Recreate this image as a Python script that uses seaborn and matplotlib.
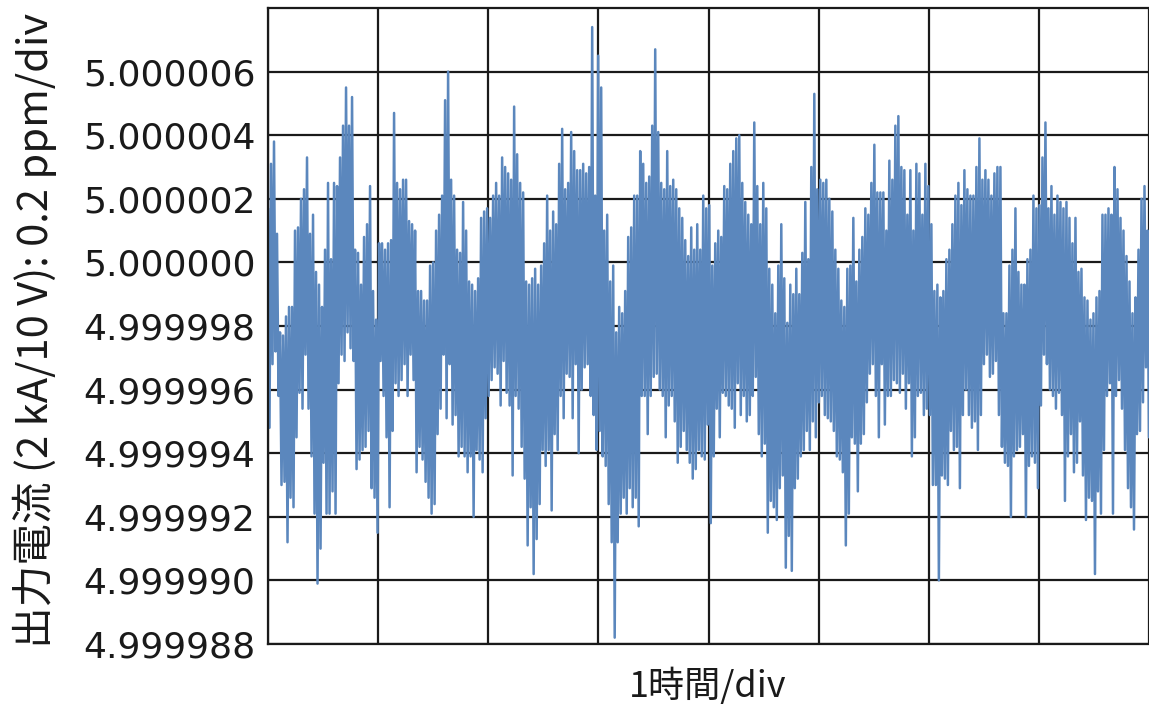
import numpy as np
import pandas as pd
import matplotlib
matplotlib.use('Agg')
import matplotlib.pyplot as plt
import seaborn as sns

# offsets from 5 V in units of 1e-6 (one grid step = 2),
# max / min of the trace in each ~3 px column, 8 hours in total
upper = [1.7, 3.1, 3.8, 0.9, -2.2, -2.3, -1.7, -1.4, -1.4, 1.0, 1.1, 2.0, 2.3, 3.3, 0.9, 1.5,
         -0.3, -0.7, -1.4, 0.4, 2.5, 0.1, 2.5, 2.4, 3.3, 4.3, 5.5, 4.3, 5.2, 0.4, 0.3, -0.7,
         0.8, 1.2, 2.4, -0.9, -1.8, 0.6, 0.6, 0.4, 0.6, 0.7, 4.7, 2.5, 2.3, 2.6, 2.6, 1.3, 1.2,
         # 2
         1.0, -0.9, -0.9, -1.2, -1.2, -0.1, 0.0, 1.0, 1.5, 2.1, 5.1, 6.0, 2.6, 2.1, 0.4, 0.3,
         1.9, 1.0, -0.6, -0.7, -0.9, -0.5, 1.4, 1.6, 1.7, 1.4, 2.1, 2.5, 2.1, 3.3, 3.0, 2.8,
         2.6, 4.9, 3.4, 2.5, 2.2, -0.6, -0.7, -0.5, -0.2, -0.7, -0.1, 0.6, 2.1, 1.0, 1.6, 1.2, 3.1,
         # 3
         4.2, 2.3, 2.5, 4.1, 3.5, 2.9, 2.9, 3.1, 2.8, 3.0, 7.4, 2.1, 6.5, 5.5, 1.0, 1.5,
         -0.6, -0.1, -2.2, -1.4, -1.6, -0.9, 0.8, 1.1, 2.1, 2.1, 3.5, 3.1, 2.5, 2.7, 4.3, 6.7,
         4.1, 2.5, 2.3, 3.5, 2.4, 2.6, 2.3, 1.7, 1.4, 0.7, 0.2, 1.1, 0.4, 1.2, 0.4, 2.1, 1.7,
         # 4
         1.8, -0.1, 0.6, 1.0, 0.8, 2.4, 2.3, 3.1, 3.5, 3.9, 4.0, 2.5, 1.9, 1.5, 1.2, 4.4,
         2.4, 1.2, 2.5, 1.7, -0.2, -0.7, -1.6, -0.1, 1.2, -0.5, -1.9, -0.7, -1.0, -0.2, -1.0, 0.3,
         1.9, 0.1, 3.0, 5.3, 2.3, 2.6, 2.5, 2.6, 2.0, 1.6, 0.4, -0.2, -1.2, -1.4, -0.2, -0.1, 1.4,
         # 5
         -0.6, 0.4, 0.8, 1.7, 1.5, 2.5, 3.7, 2.2, 2.2, 2.2, 1.0, 3.2, 2.6, 4.3, 4.6, 3.0,
         2.9, 1.5, 2.9, 1.0, 3.1, 2.8, 1.5, 3.1, 2.4, 1.2, -0.9, -0.7, -1.1, -0.9, 0.1, 0.4,
         1.2, 2.1, 2.5, 1.8, 2.9, 2.3, 2.1, 2.1, 3.0, 3.9, 2.6, 2.9, 2.6, 2.1, 2.8, 3.0,
         # 6
         3.0, -1.6, -1.6, -0.1, 0.4, 1.7, -0.3, -0.7, -0.7, 0.1, 0.4, 2.1, 1.7, 1.8, 3.3, 4.4,
         1.7, 2.4, 1.5, 2.1, 1.9, 1.7, 1.9, 1.4, 0.6, 1.4, -0.3, -0.2, -1.1, -1.2, -1.8, -1.6,
         -1.1, -0.9, 1.5, 1.5, 1.7, 1.5, 3.0, 2.3, 1.4, 1.0, 0.2, -0.6, -1.6, -1.1, 0.4, 2.0, 2.4, 1.0]

lower = [-5.2, -3.2, -2.8, -4.2, -7.0, -6.9, -8.8, -7.4, -7.7, -5.5, -4.1, -4.6, -2.9, -4.6, -6.1, -7.9,
         -10.1, -9.0, -6.3, -7.9, -7.9, -7.2, -7.9, -3.8, -2.9, -3.1, -2.2, -2.7, -3.1, -6.5, -6.2, -5.9,
         -5.8, -5.3, -7.1, -7.4, -8.5, -3.1, -4.2, -5.5, -7.7, -5.3, -3.8, -4.2, -3.7, -3.2, -4.2, -2.9, -3.7,
         # 2
         -6.6, -5.8, -6.2, -6.9, -7.4, -7.9, -7.6, -5.4, -4.6, -2.9, -4.9, -3.2, -5.1, -4.8, -6.1, -5.8,
         -6.1, -6.6, -6.1, -8.0, -5.9, -6.2, -6.6, -4.9, -4.2, -3.7, -3.3, -3.5, -4.5, -3.1, -4.1, -4.5,
         -6.7, -4.2, -4.6, -5.8, -6.8, -8.9, -7.7, -9.8, -8.7, -7.6, -5.9, -6.4, -5.9, -7.8, -5.4, -5.9, -4.2,
         # 3
         -4.9, -3.5, -3.6, -4.9, -3.2, -6.0, -4.0, -3.3, -3.2, -4.2, -4.8, -5.9, -5.3, -6.1, -6.4, -7.6,
         -8.8, -11.8, -8.8, -7.9, -7.4, -7.9, -7.1, -7.7, -7.4, -8.3, -4.2, -4.2, -5.4, -4.2, -3.6, -3.5,
         -4.0, -4.2, -5.5, -4.5, -4.2, -5.0, -6.3, -5.8, -5.3, -5.9, -6.3, -6.8, -6.5, -5.9, -6.1, -6.2, -5.1,
         # 4
         -8.2, -6.1, -4.6, -5.5, -4.1, -4.2, -4.5, -4.6, -5.2, -3.8, -4.8, -4.2, -5.0, -4.8, -4.2, -3.6,
         -5.4, -6.1, -5.7, -8.5, -7.5, -7.7, -8.1, -7.1, -6.7, -9.6, -8.6, -9.7, -7.1, -6.8, -6.1, -5.9,
         -5.3, -5.9, -5.0, -5.5, -4.4, -4.2, -4.8, -4.9, -5.0, -5.3, -6.1, -6.2, -6.6, -8.9, -7.9, -5.5, -5.7,
         # 5
         -7.2, -5.7, -5.4, -4.4, -3.5, -3.2, -4.2, -5.5, -3.2, -5.1, -4.2, -4.2, -3.7, -3.8, -4.1, -3.5,
         -4.6, -3.8, -6.1, -5.5, -4.2, -4.1, -4.8, -4.6, -4.8, -7.0, -7.0, -10.0, -6.7, -6.8, -7.0, -5.3,
         -5.9, -5.8, -7.1, -4.8, -4.0, -4.8, -5.2, -5.0, -5.9, -4.8, -3.2, -2.9, -3.6, -3.5, -3.1, -4.8,
         # 6
         -5.8, -6.3, -6.4, -8.0, -6.1, -5.9, -5.8, -5.4, -8.0, -6.4, -6.1, -6.3, -7.1, -4.5, -2.9, -3.2,
         -4.0, -4.2, -4.6, -4.1, -4.8, -7.5, -6.1, -5.4, -6.6, -6.3, -5.0, -6.7, -8.1, -7.4, -7.5, -9.8,
         -7.2, -7.9, -5.9, -4.2, -3.8, -7.9, -4.2, -3.7, -4.6, -5.9, -7.1, -7.7, -8.4, -5.4, -5.3, -4.4, -3.3, -5.5]

hours = 8
ytick_vals = [4.999988, 4.999990, 4.999992, 4.999994, 4.999996, 4.999998,
              5.000000, 5.000002, 5.000004, 5.000006]
ylabel = '出力電流 (2 kA/10 V): 0.2 ppm/div'
xlabel = '1時間/div'

# hi/lo alternating sequence
seq = []
for hi, lo in zip(upper, lower):
    seq.append(hi)
    seq.append(lo)
seq = np.array(seq)
df = pd.DataFrame({'t': np.linspace(0, hours, len(seq)),
                   'I': 5.0 + seq * 1e-6})

sns.set_style('white')
plt.rcParams['font.family'] = ['DejaVu Sans']

fig = plt.figure(figsize=(11.49, 7.07), dpi=100)
ax = fig.add_axes([268 / 1149, 1 - 644 / 707, 1 - 268 / 1149, (644 - 8) / 707])

sns.lineplot(data=df, x='t', y='I', ax=ax, color='#5b87bd', lw=1.8,
             estimator=None, sort=False)

ax.set_xlim(0, hours)
ax.set_ylim(4.999988, 5.000008)
ax.set_xticks(range(hours + 1))
ax.set_xticklabels([])
ax.set_yticks(ytick_vals)
ax.set_yticklabels([f'{v:.6f}' for v in ytick_vals])
ax.tick_params(length=0, labelsize=26, pad=9, colors='#1a1a1a')
ax.grid(True, color='#1a1a1a', lw=1.6)
ax.set_axisbelow(True)
ax.set_xlabel('')
ax.set_ylabel('')
for s in ['left', 'top', 'bottom']:
    ax.spines[s].set_color('#1a1a1a')
    ax.spines[s].set_linewidth(1.6)
ax.spines['right'].set_visible(False)

cjk = ['Noto Sans CJK JP', 'DejaVu Sans']
fig.text(35 / 1149, 1 - 330 / 707, ylabel, rotation=90, ha='center', va='center',
         fontsize=30, family=cjk, color='#1a1a1a')
fig.text(708 / 1149, 1 - 686 / 707, xlabel, ha='center', va='center',
         fontsize=26, family=cjk, color='#1a1a1a')

fig.savefig('out.png', dpi=100)
